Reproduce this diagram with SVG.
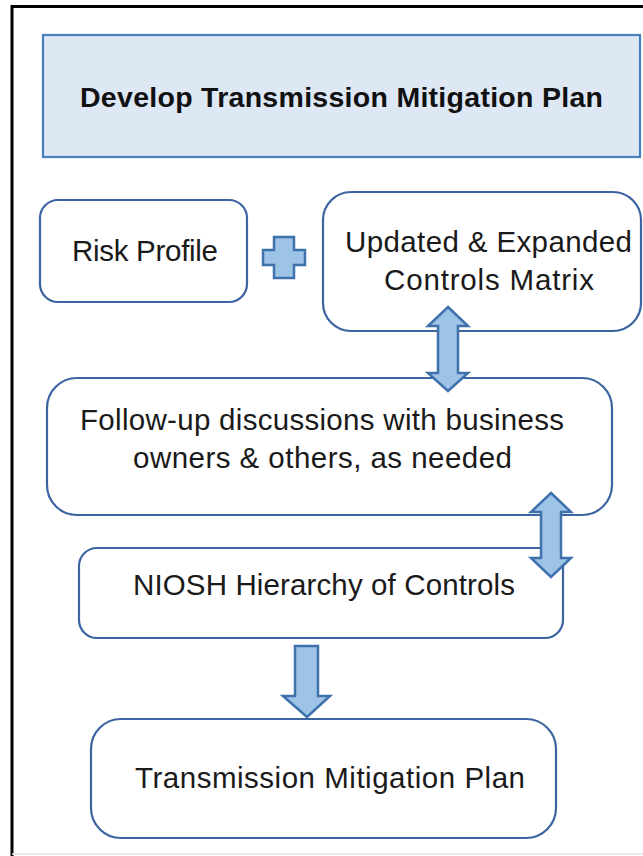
<svg xmlns="http://www.w3.org/2000/svg" width="643" height="856" viewBox="0 0 643 856">
<style>
  .node { fill: #ffffff; stroke: #3b64a0; stroke-width: 2.2; }
  .title { fill: #dde8f4; stroke: #4a7dbd; stroke-width: 2.2; }
  .txt { font-family: "Liberation Sans", Arial, sans-serif; font-size: 29.5px; fill: #1a1a1a; }
  .ttl { font-family: "Liberation Sans", Arial, sans-serif; font-size: 28.5px; font-weight: bold; fill: #111111; }
  .arrow { fill: #9dc3e6; stroke: #3f72ad; stroke-width: 2.5; stroke-linejoin: miter; }
</style>
<rect x="0" y="0" width="643" height="856" fill="#ffffff"/>
<g id="frame">
  <path d="M12,856 V6.5 H645" fill="none" stroke="#000000" stroke-width="3"/>
  <line x1="12" y1="854" x2="643" y2="854" stroke="#e6e6e6" stroke-width="1.5"/>
</g>
<g id="title">
  <rect class="title" x="43" y="35" width="597" height="122"/>
  <text class="ttl" x="80" y="107" textLength="523">Develop Transmission Mitigation Plan</text>
</g>
<g id="risk-profile">
  <rect class="node" x="40" y="200" width="207" height="102" rx="18"/>
  <text class="txt" x="72" y="261" textLength="146">Risk Profile</text>
</g>
<g id="controls-matrix">
  <rect class="node" x="323" y="192" width="318" height="139" rx="28"/>
  <text class="txt" x="345" y="252" textLength="287">Updated &amp; Expanded</text>
  <text class="txt" x="384" y="290" textLength="210">Controls Matrix</text>
</g>
<g id="follow-up">
  <rect class="node" x="47" y="378" width="565" height="137" rx="30"/>
  <text class="txt" x="80" y="430" textLength="484">Follow-up discussions with business</text>
  <text class="txt" x="133" y="468" textLength="379">owners &amp; others, as needed</text>
</g>
<g id="niosh">
  <rect class="node" x="79" y="548" width="484" height="90" rx="18"/>
  <text class="txt" x="133" y="595" textLength="382">NIOSH Hierarchy of Controls</text>
</g>
<g id="plan">
  <rect class="node" x="91" y="719" width="465" height="119" rx="30"/>
  <text class="txt" x="135" y="788" textLength="390">Transmission Mitigation Plan</text>
</g>
<g id="plus">
  <path class="arrow" d="M274,237 H294 V250 H305 V265 H294 V278 H274 V265 H263 V250 H274 Z"/>
</g>
<g id="connectors">
  <path class="arrow" d="M448,307 L468,326 L458,326 L458,373 L468,373 L448,391 L428,373 L438,373 L438,326 L428,326 Z"/>
  <path class="arrow" d="M551,493 L571,512 L561,512 L561,558 L571,558 L551,577 L531,558 L541,558 L541,512 L531,512 Z"/>
  <path class="arrow" d="M295,646 L318,646 L318,696 L330,696 L307,717 L283,696 L295,696 Z"/>
</g>
</svg>
